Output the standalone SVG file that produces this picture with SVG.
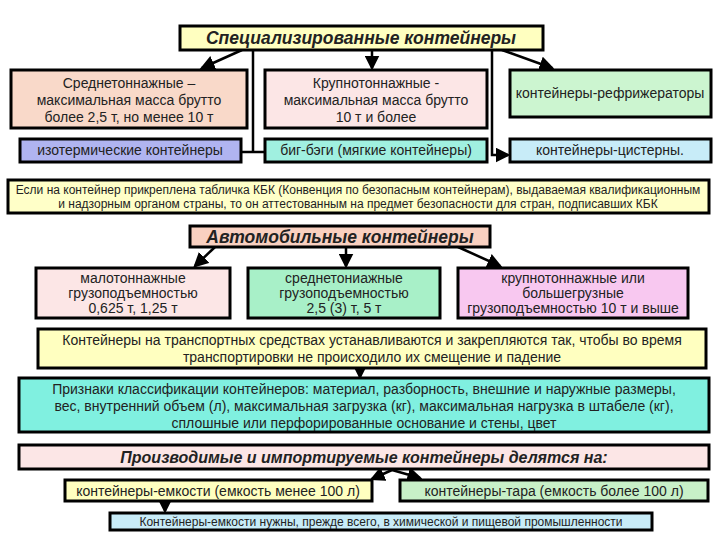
<svg xmlns="http://www.w3.org/2000/svg" width="720" height="540" viewBox="0 0 720 540">
<defs>
<marker id="ah" markerWidth="6" markerHeight="6" refX="5" refY="3" orient="auto" markerUnits="strokeWidth"><path d="M0,0L6,3L0,6z" fill="#000"/></marker>
<style>
rect{stroke:#000;stroke-width:3}
text{font-family:"Liberation Sans",Arial,sans-serif;font-size:14px;fill:#222;text-anchor:middle}
.t{font-size:17.5px;font-weight:bold;font-style:italic}
.p{font-size:16px}
.s{font-size:12px}
.c path{stroke:#000;stroke-width:2.5;fill:none}
.c .a{marker-end:url(#ah)}
</style>
</defs>
<rect width="720" height="540" fill="#fff" style="stroke:none"/>
<g class="c">
<path class="a" d="M242,50L202,68"/>
<path d="M253,50V152H241M253,152H265"/>
<path class="a" d="M372,50V68"/>
<path class="a" d="M492,50V155H508"/>
<path class="a" d="M502,50L552,68"/>
<path class="a" d="M215,247L195,266"/>
<path class="a" d="M346,247V266"/>
<path class="a" d="M458,247L500,266"/>
<path class="a" d="M360,368V377"/>
<path class="a" d="M392,470L372,479"/>
<path class="a" d="M392,470L420,478"/>
<path class="a" d="M165,501V511"/>
</g>
<g id="n1"><rect x="180" y="26" width="363" height="24" fill="#ffffc0"/><text class="t" x="361" y="44">Специализированные контейнеры</text></g>
<g id="n2"><rect x="11" y="70" width="236" height="58" fill="#f9d9c9"/><text x="129" y="88">Среднетоннажные –</text><text x="129" y="105">максимальная масса брутто</text><text x="129" y="122">более 2,5 т,  но менее 10 т</text></g>
<g id="n3"><rect x="265" y="70" width="222" height="58" fill="#fce6e6"/><text x="376" y="88">Крупнотоннажные -</text><text x="376" y="105">максимальная масса брутто</text><text x="376" y="122">10 т и более</text></g>
<g id="n4"><rect x="510" y="70" width="201" height="47" fill="#ccf5d0"/><text x="610" y="98">контейнеры-рефрижераторы</text></g>
<g id="n5"><rect x="20" y="139" width="221" height="23" fill="#b0b4f0"/><text x="130" y="155">изотермические контейнеры</text></g>
<g id="n6"><rect x="265" y="139" width="222" height="23" fill="#a0f0e0"/><text x="376" y="155">биг-бэги (мягкие контейнеры)</text></g>
<g id="n7"><rect x="510" y="139" width="201" height="23" fill="#c8ecf8"/><text x="610" y="155">контейнеры-цистерны.</text></g>
<g id="n8"><rect x="8" y="180" width="701" height="33" fill="#ffffc8"/><text class="s" x="358" y="194">Если на контейнер прикреплена табличка КБК (Конвенция по безопасным контейнерам), выдаваемая квалификационным</text><text class="s" x="358" y="208">и надзорным органом страны, то он аттестованным на предмет безопасности для стран, подписавших КБК</text></g>
<g id="n9"><rect x="190" y="226" width="300" height="21" fill="#f9d0c0"/><text class="t" x="340" y="243">Автомобильные контейнеры</text></g>
<g id="n10"><rect x="36" y="268" width="194" height="50" fill="#fce6e6"/><text x="133" y="283">малотоннажные</text><text x="133" y="298">грузоподъемностью</text><text x="133" y="313">0,625 т, 1,25 т</text></g>
<g id="n11"><rect x="248" y="268" width="192" height="50" fill="#a8f0c8"/><text x="344" y="283">среднетониажные</text><text x="344" y="298">грузоподъемностью</text><text x="344" y="313">2,5 (3) т, 5 т</text></g>
<g id="n12"><rect x="458" y="268" width="230" height="50" fill="#f8c8f0"/><text x="573" y="283">крупнотоннажные или</text><text x="573" y="298">большегрузные</text><text x="573" y="313">грузоподъемностью 10 т и выше</text></g>
<g id="n13"><rect x="38" y="329" width="668" height="39" fill="#ffffc0"/><text x="372" y="345">Контейнеры на транспортных средствах устанавливаются и закрепляются так, чтобы во время</text><text x="372" y="362">транспортировки не происходило их смещение и падение</text></g>
<g id="n14"><rect x="19" y="378" width="690" height="54" fill="#80f0e0"/><text x="364" y="394">Признаки классификации контейнеров: материал, разборность, внешние и наружные размеры,</text><text x="364" y="411">вес, внутренний объем (л), максимальная загрузка (кг),  максимальная нагрузка в штабеле (кг),</text><text x="364" y="428">сплошные  или перфорированные основание и стены, цвет</text></g>
<g id="n15"><rect x="19" y="445" width="690" height="24" fill="#fce6e6"/><text class="t p" x="364" y="463">Производимые и импортируемые контейнеры делятся на:</text></g>
<g id="n16"><rect x="65" y="480" width="307" height="21" fill="#ffffc0"/><text x="218" y="496">контейнеры-емкости (емкость менее 100 л)</text></g>
<g id="n17"><rect x="400" y="480" width="308" height="21" fill="#c8f0c8"/><text x="554" y="496">контейнеры-тара (емкость более 100 л)</text></g>
<g id="n18"><rect x="110" y="513" width="542" height="17" fill="#c8ecf8"/><text class="s" x="381" y="526">Контейнеры-емкости нужны, прежде всего, в химической и пищевой промышленности</text></g>
</svg>
